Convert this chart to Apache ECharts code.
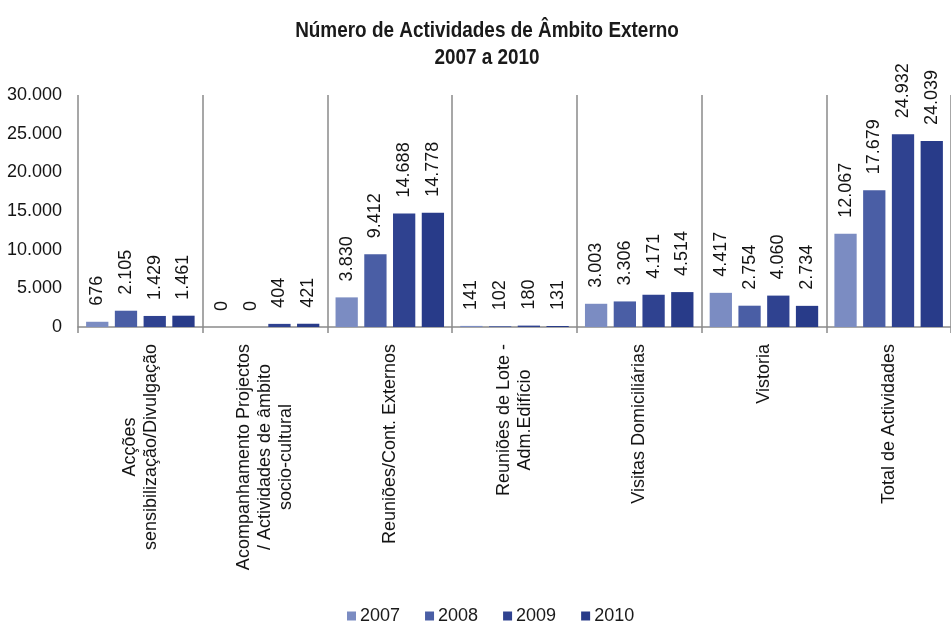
<!DOCTYPE html>
<html>
<head>
<meta charset="utf-8">
<script src="https://cdn.jsdelivr.net/npm/echarts@6/dist/echarts.min.js"></script>
<style>
  html, body { margin: 0; padding: 0; background: #ffffff; }
  #chart { width: 951px; height: 632px; }
</style>
</head>
<body>
<div id="chart"></div>
<script>
// Activity categories (line breaks as shown under the axis)
const categories = [
  'Acções\nsensibilização/Divulgação',
  'Acompanhamento Projectos\n/ Actividades de âmbito\nsocio-cultural',
  'Reuniões/Cont. Externos',
  'Reuniões de Lote -\nAdm.Edifício',
  'Visitas Domiciliárias',
  'Vistoria',
  'Total de Actividades'
];

const years = ['2007', '2008', '2009', '2010'];

const values2007 = [676, 0, 3830, 141, 3003, 4417, 12067];
const values2008 = [2105, 0, 9412, 102, 3306, 2754, 17679];
const values2009 = [1429, 404, 14688, 180, 4171, 4060, 24932];
const values2010 = [1461, 421, 14778, 131, 4514, 2734, 24039];

const yTicks = [0, 5000, 10000, 15000, 20000, 25000, 30000];

const titleText = 'Número de Actividades de Âmbito Externo\n2007 a 2010';

const seriesValues = [values2007, values2008, values2009, values2010];
const colors = ['#7b8cc2', '#4a5ea5', '#2f4290', '#283b89'];

// Portuguese thousands separator
function fmt(v) {
  return String(v).replace(/\B(?=(\d{3})+(?!\d))/g, '.');
}

const regular = "'Liberation Sans', Arial, sans-serif";

const chart = echarts.init(document.getElementById('chart'), null, { renderer: 'canvas' });

chart.setOption({
  backgroundColor: '#ffffff',
  animation: false,
  // Title set as a horizontally condensed bold text block
  graphic: [{
    type: 'text',
    x: 487,
    y: 17,
    scaleX: 0.86,
    style: {
      text: titleText,
      textAlign: 'center',
      textVerticalAlign: 'top',
      fontFamily: regular,
      fontWeight: 'bold',
      fontSize: 22,
      lineHeight: 27,
      fill: '#1a1a1a'
    }
  }],
  legend: {
    data: years,
    left: 342,
    top: 602,
    itemWidth: 9,
    itemHeight: 9,
    itemGap: 25,
    icon: 'rect',
    textStyle: { fontFamily: regular, fontSize: 18, color: '#1a1a1a', padding: [0, 0, 0, -1] }
  },
  grid: {
    left: 78,
    top: 95,
    width: 886,
    height: 232,
    containLabel: false
  },
  xAxis: {
    type: 'category',
    data: categories,
    axisLine: { show: true, lineStyle: { color: '#8a8a8a', width: 1.5 } },
    axisTick: { show: true, length: 6, lineStyle: { color: '#8a8a8a', width: 1.5 } },
    splitLine: { show: true, lineStyle: { color: '#8a8a8a', width: 1.5 } },
    axisLabel: {
      interval: 0,
      rotate: 90,
      margin: 17,
      fontFamily: regular,
      fontSize: 18,
      color: '#141414',
      formatter: function (v) {
        return v.split('\n').map(function (s) { return '{c|' + s + '}'; }).join('\n');
      },
      rich: {
        c: { align: 'center', fontFamily: regular, fontSize: 18, lineHeight: 21, color: '#141414' }
      }
    }
  },
  yAxis: {
    type: 'value',
    min: yTicks[0],
    max: yTicks[yTicks.length - 1],
    interval: yTicks[1] - yTicks[0],
    axisLine: { show: false },
    axisTick: { show: false },
    splitLine: { show: false },
    axisLabel: {
      margin: 16,
      fontFamily: regular,
      fontSize: 18,
      color: '#141414',
      formatter: function (v) { return fmt(v); }
    }
  },
  series: years.map(function (y, i) {
    return {
      name: y,
      type: 'bar',
      data: seriesValues[i],
      barGap: '29%',
      barCategoryGap: '13%',
      itemStyle: { color: colors[i] },
      label: {
        show: true,
        position: 'top',
        rotate: 90,
        align: 'left',
        verticalAlign: 'middle',
        distance: 16,
        fontFamily: regular,
        fontSize: 18,
        color: '#141414',
        formatter: function (p) { return fmt(p.value); }
      }
    };
  })
});
</script>
</body>
</html>
